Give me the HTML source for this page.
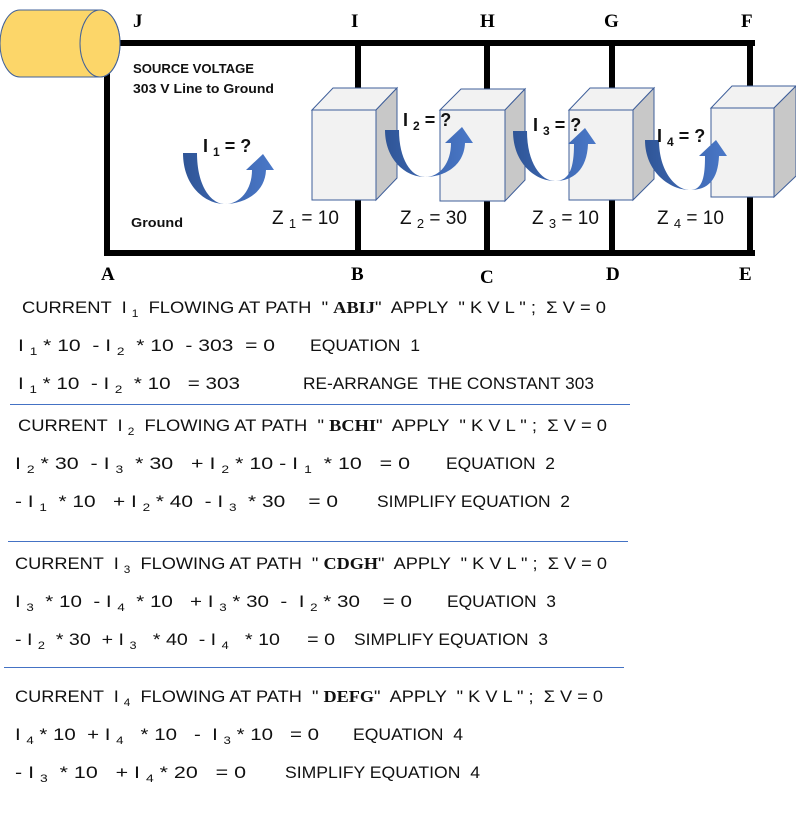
<!DOCTYPE html>
<html><head><meta charset="utf-8"><style>
html,body{margin:0;padding:0;background:#fff;}
svg{display:block}
.t{font-family:"Liberation Sans",sans-serif;font-size:17px;fill:#111;white-space:pre;}
.s{font-size:11px;}
.b{font-family:"Liberation Serif",serif;font-weight:bold;}
.L{font-family:"Liberation Serif",serif;font-weight:bold;font-size:19px;fill:#000;}
</style></head><body>
<svg width="796" height="815" viewBox="0 0 796 815" xmlns="http://www.w3.org/2000/svg">
<defs>
<linearGradient id="ag" x1="0" y1="0" x2="1" y2="0"><stop offset="0" stop-color="#2f5597"/><stop offset="1" stop-color="#4a78c8"/></linearGradient>
</defs>
<g stroke="#000" stroke-width="6" fill="none" stroke-linecap="square">
<line x1="118" y1="43" x2="752" y2="43"/>
<line x1="107" y1="76" x2="107" y2="253"/>
<line x1="107" y1="253" x2="752" y2="253"/>
<line x1="750" y1="46" x2="750" y2="253"/>
<line x1="358" y1="43" x2="358" y2="253"/>
<line x1="487" y1="43" x2="487" y2="253"/>
<line x1="612" y1="43" x2="612" y2="253"/>
</g>
<path d="M20,10 L100,10 A20,33.5 0 0 1 100,77 L20,77 A20,33.5 0 0 1 20,10 Z" fill="#fcd669" stroke="#41619a" stroke-width="1"/>
<ellipse cx="100" cy="43.5" rx="20" ry="33.5" fill="#fcd669" stroke="#41619a" stroke-width="1"/>
<g stroke="#3f5f9a" stroke-width="1">
<polygon points="312,110 333,88 397,88 376,110" fill="#f2f2f2"/>
<polygon points="376,110 397,88 397,178 376,200" fill="#c8c8c8"/>
<rect x="312" y="110" width="64" height="90" fill="#f2f2f2"/>
<polygon points="440,110 461,89 525,89 505,110" fill="#f2f2f2"/>
<polygon points="505,110 525,89 525,180 505,201" fill="#c8c8c8"/>
<rect x="440" y="110" width="65" height="91" fill="#f2f2f2"/>
<polygon points="569,110 590,88 654,88 633,110" fill="#f2f2f2"/>
<polygon points="633,110 654,88 654,179 633,200" fill="#c8c8c8"/>
<rect x="569" y="110" width="64" height="90" fill="#f2f2f2"/>
<polygon points="711,108 732,86 796,86 774,108" fill="#f2f2f2"/>
<polygon points="774,108 796,86 796,176 774,197" fill="#c8c8c8"/>
<rect x="711" y="108" width="63" height="89" fill="#f2f2f2"/>
</g>
<g fill="url(#ag)">
<path d="M183,153 C183,186 205,204 225,204 C240,204 252,190 252,170 L246,170 L263,154 L274,170 L266,170 C265,194 243,204 225,204 C211,204 197,186 197,153 Z"/>
<path d="M385,130 C385,159 405,177 425,177 C440,177 451,163 451,143 L445,143 L462,127 L473,143 L465,143 C464,167 443,177 425,177 C411,177 399,159 399,130 Z"/>
<path d="M513,131 C513,163 535,181 555,181 C570,181 574,167 574,144 L568,144 L585,128 L596,144 L588,144 C587,170 573,181 555,181 C541,181 527,163 527,131 Z"/>
<path d="M645,140 C645,172 670,190 690,190 C703,190 705,176 705,156 L699,156 L716,140 L727,156 L719,156 C718,180 708,190 690,190 C676,190 659,172 659,140 Z"/>
</g>
<text class="L" x="133" y="27">J</text>
<text class="L" x="351" y="27">I</text>
<text class="L" x="480" y="27">H</text>
<text class="L" x="604" y="27">G</text>
<text class="L" x="741" y="27">F</text>
<text class="L" x="101" y="280">A</text>
<text class="L" x="351" y="280">B</text>
<text class="L" x="480" y="283">C</text>
<text class="L" x="606" y="280">D</text>
<text class="L" x="739" y="280">E</text>
<g font-family="Liberation Sans,sans-serif" font-weight="bold" font-size="12.5" fill="#111">
<text x="133" y="73" textLength="121" lengthAdjust="spacingAndGlyphs">SOURCE VOLTAGE</text>
<text x="133" y="93" textLength="141" lengthAdjust="spacingAndGlyphs">303 V Line to Ground</text>
<text x="131" y="227" textLength="52" lengthAdjust="spacingAndGlyphs">Ground</text>
</g>
<g font-family="Liberation Sans,sans-serif" font-weight="bold" font-size="18" fill="#111">
<text x="203" y="152">I <tspan font-size="12" dy="4">1</tspan><tspan dy="-4"> = ?</tspan></text>
<text x="403" y="126">I <tspan font-size="12" dy="4">2</tspan><tspan dy="-4"> = ?</tspan></text>
<text x="533" y="131">I <tspan font-size="12" dy="4">3</tspan><tspan dy="-4"> = ?</tspan></text>
<text x="657" y="142">I <tspan font-size="12" dy="4">4</tspan><tspan dy="-4"> = ?</tspan></text>
</g>
<g font-family="Liberation Sans,sans-serif" font-size="19" fill="#111">
<text x="272" y="224">Z <tspan font-size="13" dy="4">1</tspan><tspan dy="-4"> = 10</tspan></text>
<text x="400" y="224">Z <tspan font-size="13" dy="4">2</tspan><tspan dy="-4"> = 30</tspan></text>
<text x="532" y="224">Z <tspan font-size="13" dy="4">3</tspan><tspan dy="-4"> = 10</tspan></text>
<text x="657" y="224">Z <tspan font-size="13" dy="4">4</tspan><tspan dy="-4"> = 10</tspan></text>
</g>
<g stroke="#4472c4" stroke-width="1">
<line x1="10" y1="404.5" x2="630" y2="404.5"/>
<line x1="8" y1="541.5" x2="628" y2="541.5"/>
<line x1="4" y1="667.5" x2="624" y2="667.5"/>
</g>
<g class="t">
<text class="t" x="22" y="313" textLength="584" lengthAdjust="spacingAndGlyphs">CURRENT  I <tspan class="s" dy="4">1</tspan><tspan dy="-4">  FLOWING AT PATH  " </tspan><tspan class="b">ABIJ</tspan>"  APPLY  " K V L " ;  Σ V = 0</text>
<text class="t" x="18" y="351" textLength="257" lengthAdjust="spacingAndGlyphs">I <tspan class="s" dy="4">1</tspan><tspan dy="-4"> * 10  - I </tspan><tspan class="s" dy="4">2</tspan><tspan dy="-4">  * 10  - 303  = 0</tspan></text>
<text class="t" x="310" y="351" textLength="110" lengthAdjust="spacingAndGlyphs">EQUATION  1</text>
<text class="t" x="18" y="389" textLength="222" lengthAdjust="spacingAndGlyphs">I <tspan class="s" dy="4">1</tspan><tspan dy="-4"> * 10  - I </tspan><tspan class="s" dy="4">2</tspan><tspan dy="-4">  * 10   = 303</tspan></text>
<text class="t" x="303" y="389" textLength="291" lengthAdjust="spacingAndGlyphs">RE-ARRANGE  THE CONSTANT 303</text>

<text class="t" x="18" y="431" textLength="589" lengthAdjust="spacingAndGlyphs">CURRENT  I <tspan class="s" dy="4">2</tspan><tspan dy="-4">  FLOWING AT PATH  " </tspan><tspan class="b">BCHI</tspan>"  APPLY  " K V L " ;  Σ V = 0</text>
<text class="t" x="15" y="469" textLength="395" lengthAdjust="spacingAndGlyphs">I <tspan class="s" dy="4">2</tspan><tspan dy="-4"> * 30  - I </tspan><tspan class="s" dy="4">3</tspan><tspan dy="-4">  * 30   + I </tspan><tspan class="s" dy="4">2</tspan><tspan dy="-4"> * 10 - I </tspan><tspan class="s" dy="4">1</tspan><tspan dy="-4">  * 10   = 0</tspan></text>
<text class="t" x="446" y="469" textLength="109" lengthAdjust="spacingAndGlyphs">EQUATION  2</text>
<text class="t" x="15" y="507" textLength="323" lengthAdjust="spacingAndGlyphs">- I <tspan class="s" dy="4">1</tspan><tspan dy="-4">  * 10   + I </tspan><tspan class="s" dy="4">2</tspan><tspan dy="-4"> * 40  - I </tspan><tspan class="s" dy="4">3</tspan><tspan dy="-4">  * 30    = 0</tspan></text>
<text class="t" x="377" y="507" textLength="193" lengthAdjust="spacingAndGlyphs">SIMPLIFY EQUATION  2</text>

<text class="t" x="15" y="569" textLength="592" lengthAdjust="spacingAndGlyphs">CURRENT  I <tspan class="s" dy="4">3</tspan><tspan dy="-4">  FLOWING AT PATH  " </tspan><tspan class="b">CDGH</tspan>"  APPLY  " K V L " ;  Σ V = 0</text>
<text class="t" x="15" y="607" textLength="397" lengthAdjust="spacingAndGlyphs">I <tspan class="s" dy="4">3</tspan><tspan dy="-4">  * 10  - I </tspan><tspan class="s" dy="4">4</tspan><tspan dy="-4">  * 10   + I </tspan><tspan class="s" dy="4">3</tspan><tspan dy="-4"> * 30  -  I </tspan><tspan class="s" dy="4">2</tspan><tspan dy="-4"> * 30    = 0</tspan></text>
<text class="t" x="447" y="607" textLength="109" lengthAdjust="spacingAndGlyphs">EQUATION  3</text>
<text class="t" x="15" y="645" textLength="320" lengthAdjust="spacingAndGlyphs">- I <tspan class="s" dy="4">2</tspan><tspan dy="-4">  * 30  + I </tspan><tspan class="s" dy="4">3</tspan><tspan dy="-4">   * 40  - I </tspan><tspan class="s" dy="4">4</tspan><tspan dy="-4">   * 10     = 0</tspan></text>
<text class="t" x="354" y="645" textLength="194" lengthAdjust="spacingAndGlyphs">SIMPLIFY EQUATION  3</text>

<text class="t" x="15" y="702" textLength="588" lengthAdjust="spacingAndGlyphs">CURRENT  I <tspan class="s" dy="4">4</tspan><tspan dy="-4">  FLOWING AT PATH  " </tspan><tspan class="b">DEFG</tspan>"  APPLY  " K V L " ;  Σ V = 0</text>
<text class="t" x="15" y="740" textLength="304" lengthAdjust="spacingAndGlyphs">I <tspan class="s" dy="4">4</tspan><tspan dy="-4"> * 10  + I </tspan><tspan class="s" dy="4">4</tspan><tspan dy="-4">   * 10   -  I </tspan><tspan class="s" dy="4">3</tspan><tspan dy="-4"> * 10   = 0</tspan></text>
<text class="t" x="353" y="740" textLength="110" lengthAdjust="spacingAndGlyphs">EQUATION  4</text>
<text class="t" x="15" y="778" textLength="231" lengthAdjust="spacingAndGlyphs">- I <tspan class="s" dy="4">3</tspan><tspan dy="-4">  * 10   + I </tspan><tspan class="s" dy="4">4</tspan><tspan dy="-4"> * 20   = 0</tspan></text>
<text class="t" x="285" y="778" textLength="195" lengthAdjust="spacingAndGlyphs">SIMPLIFY EQUATION  4</text>
</g>
</svg>
</body></html>
